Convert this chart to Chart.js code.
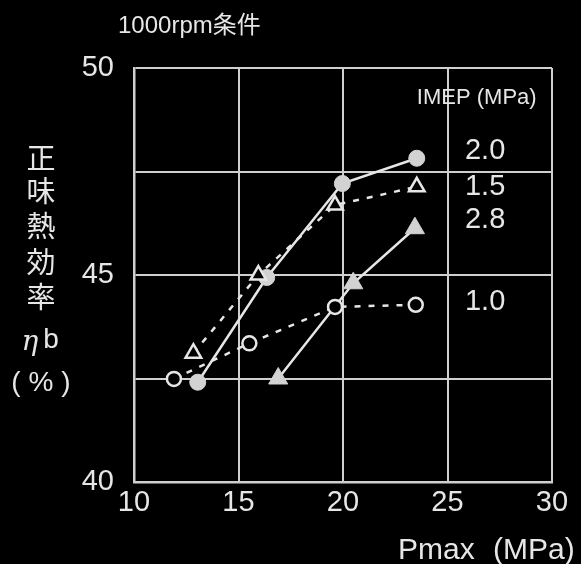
<!DOCTYPE html>
<html>
<head>
<meta charset="utf-8">
<script src="https://cdn.jsdelivr.net/npm/chart.js@4"></script>
<style>
  html, body { margin: 0; padding: 0; background: #000; }
  #wrap { width: 581px; height: 564px; }
</style>
</head>
<body>
<div id="wrap"><canvas id="chart" width="581" height="564"></canvas></div>
<script>
// IMEP 2.0 (filled circle, solid)
const imep20X = [13.05, 16.35, 19.97, 23.53];
const imep20Y = [42.41, 44.94, 47.21, 47.82];
// IMEP 1.5 (open triangle, dashed)
const imep15X = [12.84, 15.95, 19.62, 23.53];
const imep15Y = [43.11, 45.0, 46.69, 47.13];
// IMEP 2.8 (filled triangle, solid)
const imep28X = [16.9, 20.49, 23.44];
const imep28Y = [42.5, 44.8, 46.13];
// IMEP 1.0 (open circle, dashed)
const imep10X = [11.91, 15.52, 19.62, 23.48];
const imep10Y = [42.49, 43.35, 44.23, 44.28];

const xTicks = [10, 15, 20, 25, 30];
const yTicks = [40, 45, 50];

// in-plot labels (data coordinates)
const labelText = ["IMEP (MPa)", "2.0", "1.5", "2.8", "1.0"];
const labelX = [26.4, 26.8, 26.8, 26.8, 26.8];
const labelY = [49.28, 48.0, 47.13, 46.33, 44.35];

const yTitleChars = ["正", "味", "熱", "効", "率"];

const FG = "#e6e6e6";
const MARK = "#d2d2d2";
const GRID = "#cfcfcf";

function pts(xs, ys) {
  return xs.map((x, i) => ({ x: x, y: ys[i] }));
}

const bgPlugin = {
  id: "bg",
  beforeDraw(chart) {
    const c = chart.ctx;
    c.save();
    c.fillStyle = "#000";
    c.fillRect(0, 0, chart.width, chart.height);
    c.restore();
  },
};

const textPlugin = {
  id: "texts",
  afterDraw(chart) {
    const c = chart.ctx;
    const xs = chart.scales.x;
    const ys = chart.scales.y;
    c.save();
    c.fillStyle = FG;
    c.textBaseline = "middle";

    // title
    c.textAlign = "left";
    c.font = '24px "Liberation Sans", "Noto Sans CJK JP"';
    c.fillText("1000rpm条件", 118, 26);

    // in-plot labels
    c.textAlign = "center";
    labelText.forEach((t, i) => {
      c.font = i == 0 ? '22px "Liberation Sans"' : '29px "Liberation Sans"';
      c.fillText(t, xs.getPixelForValue(labelX[i]), ys.getPixelForValue(labelY[i]));
    });

    // y title, stacked
    const yPos = [158, 191, 226, 262, 297];
    c.font = '29px "Noto Sans CJK JP"';
    yTitleChars.forEach((t, i) => {
      c.fillText(t, 41, yPos[i]);
    });
    c.font = 'italic 28px "DejaVu Serif"';
    c.fillText("η", 30, 343);
    c.font = '28px "Liberation Sans"';
    c.fillText("b", 51, 340);
    c.fillText("(", 16, 383);
    c.fillText("%", 41, 383);
    c.fillText(")", 66, 383);

    // x title
    c.textAlign = "left";
    c.font = '30px "Liberation Sans"';
    c.fillText("Pmax", 398, 551);
    c.fillText("(MPa)", 493, 551);
    c.restore();
  },
};

const ctx = document.getElementById("chart");

const data = {
  datasets: [
    {
      label: "1.0",
      data: pts(imep10X, imep10Y),
      borderColor: FG,
      borderWidth: 2.5,
      borderDash: [6, 8],
      pointStyle: "circle",
      pointRadius: 7,
      pointBorderWidth: 2.5,
      pointBorderColor: FG,
      pointBackgroundColor: "#000",
      showLine: true,
    },
    {
      label: "1.5",
      data: pts(imep15X, imep15Y),
      borderColor: FG,
      borderWidth: 2.5,
      borderDash: [6, 8],
      pointStyle: "triangle",
      pointRadius: 9,
      pointBorderWidth: 2.5,
      pointBorderColor: FG,
      pointBackgroundColor: "#000",
      showLine: true,
    },
    {
      label: "2.8",
      data: pts(imep28X, imep28Y),
      borderColor: FG,
      borderWidth: 2.5,
      pointStyle: "triangle",
      pointRadius: 11,
      pointBorderWidth: 1,
      pointBorderColor: MARK,
      pointBackgroundColor: MARK,
      showLine: true,
    },
    {
      label: "2.0",
      data: pts(imep20X, imep20Y),
      borderColor: FG,
      borderWidth: 2.5,
      pointStyle: "circle",
      pointRadius: 8,
      pointBorderWidth: 1,
      pointBorderColor: MARK,
      pointBackgroundColor: MARK,
      showLine: true,
    },
  ],
};

const config = {
  type: "scatter",
  data: data,
  options: {
    responsive: false,
    animation: false,
    events: [],
    layout: { padding: { top: 68, right: 29, left: 0, bottom: 0 } },
    plugins: {
      legend: { display: false },
      title: { display: false },
      tooltip: { enabled: false },
    },
    scales: {
      x: {
        type: "linear",
        min: 10,
        max: 30,
        afterFit(scale) {
          scale.height = 82;
        },
        afterBuildTicks(scale) {
          scale.ticks = xTicks.map((v) => ({ value: v }));
        },
        grid: { color: GRID, lineWidth: 2, drawTicks: false },
        border: { color: GRID, width: 2.5 },
        ticks: {
          color: FG,
          font: { family: "Liberation Sans", size: 29 },
          padding: 4,
          maxRotation: 0,
        },
      },
      y: {
        type: "linear",
        min: 40,
        max: 50,
        afterFit(scale) {
          scale.width = 134;
        },
        ticks: {
          stepSize: 2.5,
          color: FG,
          font: { family: "Liberation Sans", size: 29 },
          padding: 20,
          callback: (v) => (yTicks.includes(v) ? v : ""),
        },
        grid: { color: GRID, lineWidth: 2, drawTicks: false },
        border: { color: GRID, width: 2.5 },
      },
    },
  },
  plugins: [bgPlugin, textPlugin],
};

let chart = new Chart(ctx, config);
</script>
</body>
</html>
